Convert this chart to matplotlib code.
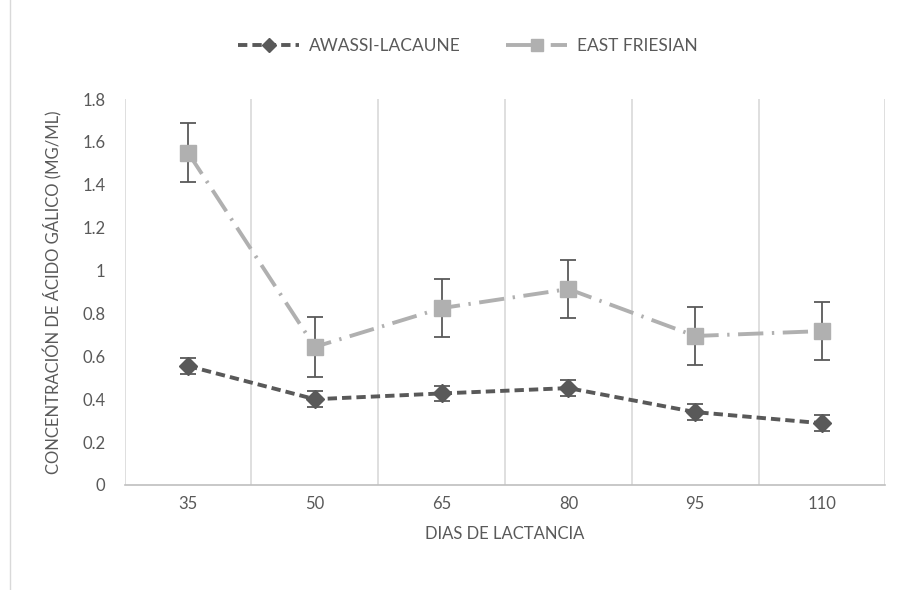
import numpy as np
import matplotlib
matplotlib.use("Agg")
import matplotlib.pyplot as plt
from matplotlib.ticker import FuncFormatter
from matplotlib.patches import Rectangle
from matplotlib.lines import Line2D

plt.rcParams['font.family'] = ['Lato', 'DejaVu Sans']

# data
dias = ["35", "50", "65", "80", "95", "110"]
awassi = [0.555, 0.400, 0.427, 0.452, 0.340, 0.288]
awassi_err = [0.038, 0.037, 0.037, 0.037, 0.037, 0.037]
friesian = [1.550, 0.644, 0.825, 0.914, 0.695, 0.718]
friesian_err = [0.137, 0.138, 0.137, 0.137, 0.137, 0.137]

txt = "#595959"
c_al = "#595959"
c_ef = "#b0b0b0"
dash_al = (2.4, 1.3)
dash_ef = (6.5, 2.2, 0.6, 2.2)

fig = plt.figure(figsize=(8.97, 5.90), dpi=100)
ax = fig.add_axes([0.139, 0.178, 0.848, 0.654])

x = np.arange(len(dias))

ax.errorbar(x, awassi, yerr=awassi_err, color=c_al, lw=2.8,
            dashes=dash_al, marker="D", markersize=9,
            ecolor="#595959", elinewidth=1.3, capsize=6, capthick=1.3, zorder=3)
ax.errorbar(x, friesian, yerr=friesian_err, color=c_ef, lw=2.8,
            dashes=dash_ef, marker="s", markersize=12,
            ecolor="#595959", elinewidth=1.3, capsize=6, capthick=1.3, zorder=4)

ax.set_xlim(-0.5, len(dias) - 0.5)
ax.set_ylim(0, 1.8)
ax.set_yticks(np.arange(0, 1.81, 0.2))
ax.yaxis.set_major_formatter(FuncFormatter(lambda v, p: f"{v:.1f}".rstrip("0").rstrip(".") if v else "0"))
ax.set_xticks(x)
ax.set_xticklabels(dias)

for b in np.arange(-0.5, len(dias), 1.0):
    ax.axvline(b, color="#d9d9d9", lw=1.2, zorder=0)

for s in ["top", "right", "left"]:
    ax.spines[s].set_visible(False)
ax.spines["bottom"].set_color("#bfbfbf")
ax.spines["bottom"].set_linewidth(1.2)

ax.tick_params(axis="both", length=0, labelsize=12, colors=txt, pad=8)
ax.tick_params(axis="y", pad=14)

ax.set_xlabel("DIAS DE LACTANCIA", fontsize=12, color=txt, labelpad=10)
ax.set_ylabel("CONCENTRACIÓN DE ÁCIDO GÁLICO (MG/ML)", fontsize=12, color=txt, labelpad=14)

handles = [
    Line2D([], [], color=c_al, lw=2.8, dashes=dash_al, marker="D", markersize=7),
    Line2D([], [], color=c_ef, lw=2.8, dashes=dash_ef, marker="s", markersize=9),
]
leg = fig.legend(handles, ["AWASSI-LACAUNE", "EAST FRIESIAN"], loc="center",
                 bbox_to_anchor=(0.522, 0.922), ncol=2, frameon=False,
                 fontsize=12.5, handlelength=3.5, handletextpad=0.6, columnspacing=2.6)
for t in leg.get_texts():
    t.set_color(txt)

fig.patches.append(Rectangle((0.011, -0.02), 1.2, 1.2, transform=fig.transFigure,
                             fill=False, edgecolor="#d9d9d9", lw=1))

fig.savefig("out.png", dpi=100)
